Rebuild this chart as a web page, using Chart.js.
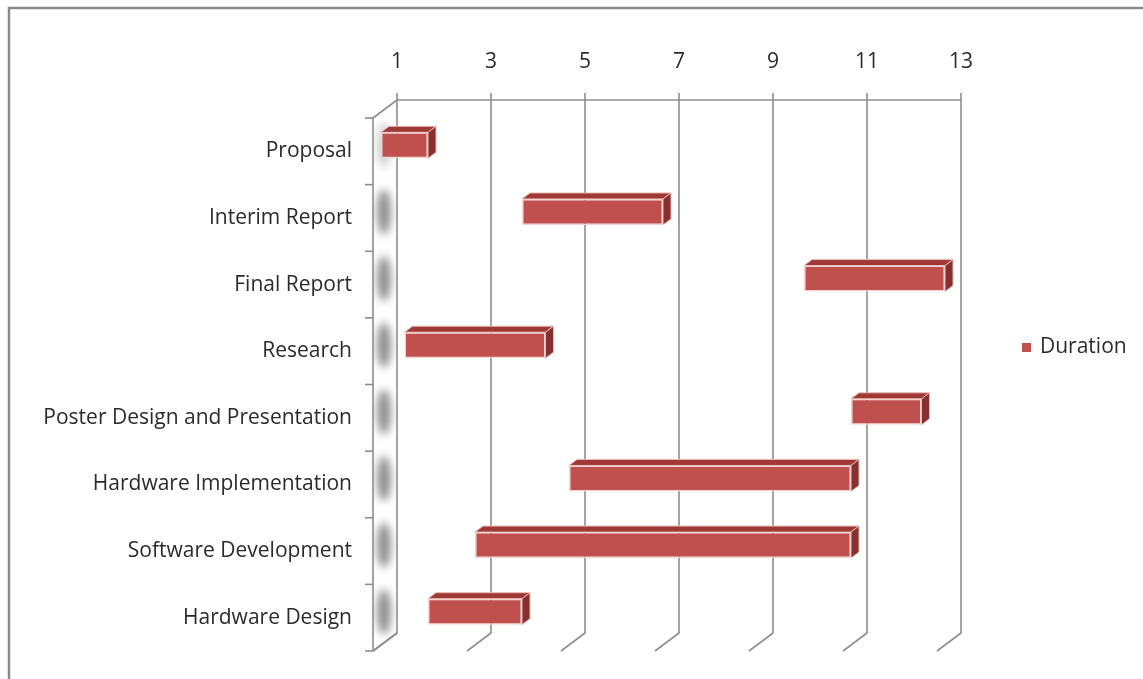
<!DOCTYPE html>
<html>
<head>
<meta charset="utf-8">
<script src="https://cdn.jsdelivr.net/npm/chart.js@4.4.1/dist/chart.umd.min.js"></script>
<style>
html,body{margin:0;padding:0;background:#fff}
#wrap{width:1143px;height:679px}
</style>
</head>
<body>
<div id="wrap"><canvas id="chart" width="1143" height="679"></canvas></div>
<script>
// task list for the gantt (weeks)
const tasks = ['Proposal','Interim Report','Final Report','Research','Poster Design and Presentation','Hardware Implementation','Software Development','Hardware Design'];
const startWeek = [1, 4, 10, 1.5, 11, 5, 3, 2];
const endWeek   = [2, 7, 13, 4.5, 12.5, 11, 11, 4];
const weekTicks = [1, 3, 5, 7, 9, 11, 13];
const seriesName = 'Duration';

const RED = '#c0504d', RED_TOP = '#9e3936', RED_SIDE = '#87302d';
const GRID = '#8e8e8e', TXT = '#2b2b2b';
const FONT = '"Open Sans", sans-serif';
// 3d depth: bar face -> back wall, bar face -> front
const BACK = {x:16, y:-12}, FRONT = {x:-8, y:6}, BAR = {x:8, y:-6};

const deco = {
 id:'deco',
 beforeDraw(c){
  const ctx=c.ctx; ctx.save();
  ctx.fillStyle='#fff'; ctx.fillRect(0,0,c.width,c.height);
  ctx.strokeStyle='#8a8a8a'; ctx.lineWidth=2.5;
  ctx.beginPath(); ctx.moveTo(9,700); ctx.lineTo(9,8); ctx.lineTo(1200,8); ctx.stroke();
  ctx.restore();
 },
 beforeDatasetsDraw(c){
  const ctx=c.ctx, xs=c.scales.x, a=c.chartArea;
  const x1=xs.getPixelForValue(weekTicks[0]);
  ctx.save();
  // side wall shading
  ctx.save();
  ctx.beginPath();
  ctx.moveTo(x1+FRONT.x,a.top+FRONT.y); ctx.lineTo(x1+BACK.x,a.top+BACK.y);
  ctx.lineTo(x1+BACK.x,a.bottom+BACK.y); ctx.lineTo(x1+FRONT.x,a.bottom+FRONT.y); ctx.closePath();
  ctx.clip();
  ctx.filter='blur(4px)';
  const band=(a.bottom-a.top)/tasks.length;
  tasks.forEach((t,i)=>{
   const cy=a.top+band*(i+0.5);
   ctx.fillStyle= i===0 ? 'rgba(150,150,150,0.45)' : 'rgba(130,130,130,0.9)';
   ctx.beginPath(); ctx.ellipse(x1+3,cy,7,band*0.34,0,0,Math.PI*2); ctx.fill();
  });
  ctx.restore();
  ctx.strokeStyle=GRID; ctx.lineWidth=1.6;
  // wall outline
  ctx.beginPath();
  ctx.moveTo(x1+FRONT.x,a.bottom+FRONT.y); ctx.lineTo(x1+FRONT.x,a.top+FRONT.y); ctx.lineTo(x1+BACK.x,a.top+BACK.y);
  ctx.moveTo(x1+FRONT.x,a.bottom+FRONT.y); ctx.lineTo(x1+BACK.x,a.bottom+BACK.y);
  ctx.stroke();
  // category ticks on the wall
  for(let i=0;i<=tasks.length;i++){
   const y=a.top+band*i+FRONT.y;
   ctx.beginPath(); ctx.moveTo(x1+FRONT.x-8,y); ctx.lineTo(x1+FRONT.x,y); ctx.stroke();
  }
  // back plane grid
  const xl=xs.getPixelForValue(weekTicks[weekTicks.length-1]);
  ctx.beginPath(); ctx.moveTo(x1+BACK.x,a.top+BACK.y); ctx.lineTo(xl+BACK.x,a.top+BACK.y); ctx.stroke();
  weekTicks.forEach(v=>{
   const x=xs.getPixelForValue(v);
   ctx.beginPath();
   ctx.moveTo(x+BACK.x,a.top+BACK.y-7); ctx.lineTo(x+BACK.x,a.bottom+BACK.y); ctx.lineTo(x+FRONT.x,a.bottom+FRONT.y);
   ctx.stroke();
  });
  // bar depth faces
  c.getDatasetMeta(0).data.forEach(b=>{
   const l=Math.min(b.base,b.x), r=Math.max(b.base,b.x), t=b.y-b.height/2, bt=b.y+b.height/2;
   ctx.fillStyle=RED_TOP; ctx.strokeStyle='#e9b9b7'; ctx.lineWidth=1;
   ctx.beginPath(); ctx.moveTo(l,t); ctx.lineTo(l+BAR.x,t+BAR.y); ctx.lineTo(r+BAR.x,t+BAR.y); ctx.lineTo(r,t); ctx.closePath(); ctx.fill(); ctx.stroke();
   ctx.fillStyle=RED_SIDE;
   ctx.beginPath(); ctx.moveTo(r,t); ctx.lineTo(r+BAR.x,t+BAR.y); ctx.lineTo(r+BAR.x,bt+BAR.y); ctx.lineTo(r,bt); ctx.closePath(); ctx.fill(); ctx.stroke();
  });
  ctx.restore();
 },
 afterDraw(c){
  const ctx=c.ctx; ctx.save();
  ctx.fillStyle=RED; ctx.fillRect(1022,343,9,9);
  ctx.fillStyle=TXT; ctx.font='21px '+FONT; ctx.textBaseline='middle'; ctx.textAlign='left';
  ctx.fillText(seriesName,1040,347);
  ctx.restore();
 }
};

new Chart(document.getElementById('chart'),{
 type:'bar',
 data:{
  labels:tasks,
  datasets:[{label:seriesName,data:tasks.map((t,i)=>[startWeek[i],endWeek[i]]),backgroundColor:RED,borderColor:'#f2d3d2',borderWidth:1.5,borderSkipped:false,barPercentage:0.39,categoryPercentage:1}]
 },
 plugins:[deco],
 options:{
  indexAxis:'y', responsive:false, animation:false,
  layout:{padding:{left:0,top:0,right:198,bottom:34}},
  plugins:{legend:{display:false},tooltip:{enabled:false}},
  scales:{
   x:{position:'top',min:1,max:13,grid:{display:false},border:{display:false},
      ticks:{stepSize:2,labelOffset:16,padding:29,color:TXT,font:{family:FONT,size:21}},
      afterFit(s){s.height=112;}},
   y:{grid:{display:false},border:{display:false},
      ticks:{labelOffset:6,padding:21,color:TXT,font:{family:FONT,size:21},autoSkip:false},
      afterFit(s){s.width=381;}}
  }
 }
});
</script>
</body>
</html>
